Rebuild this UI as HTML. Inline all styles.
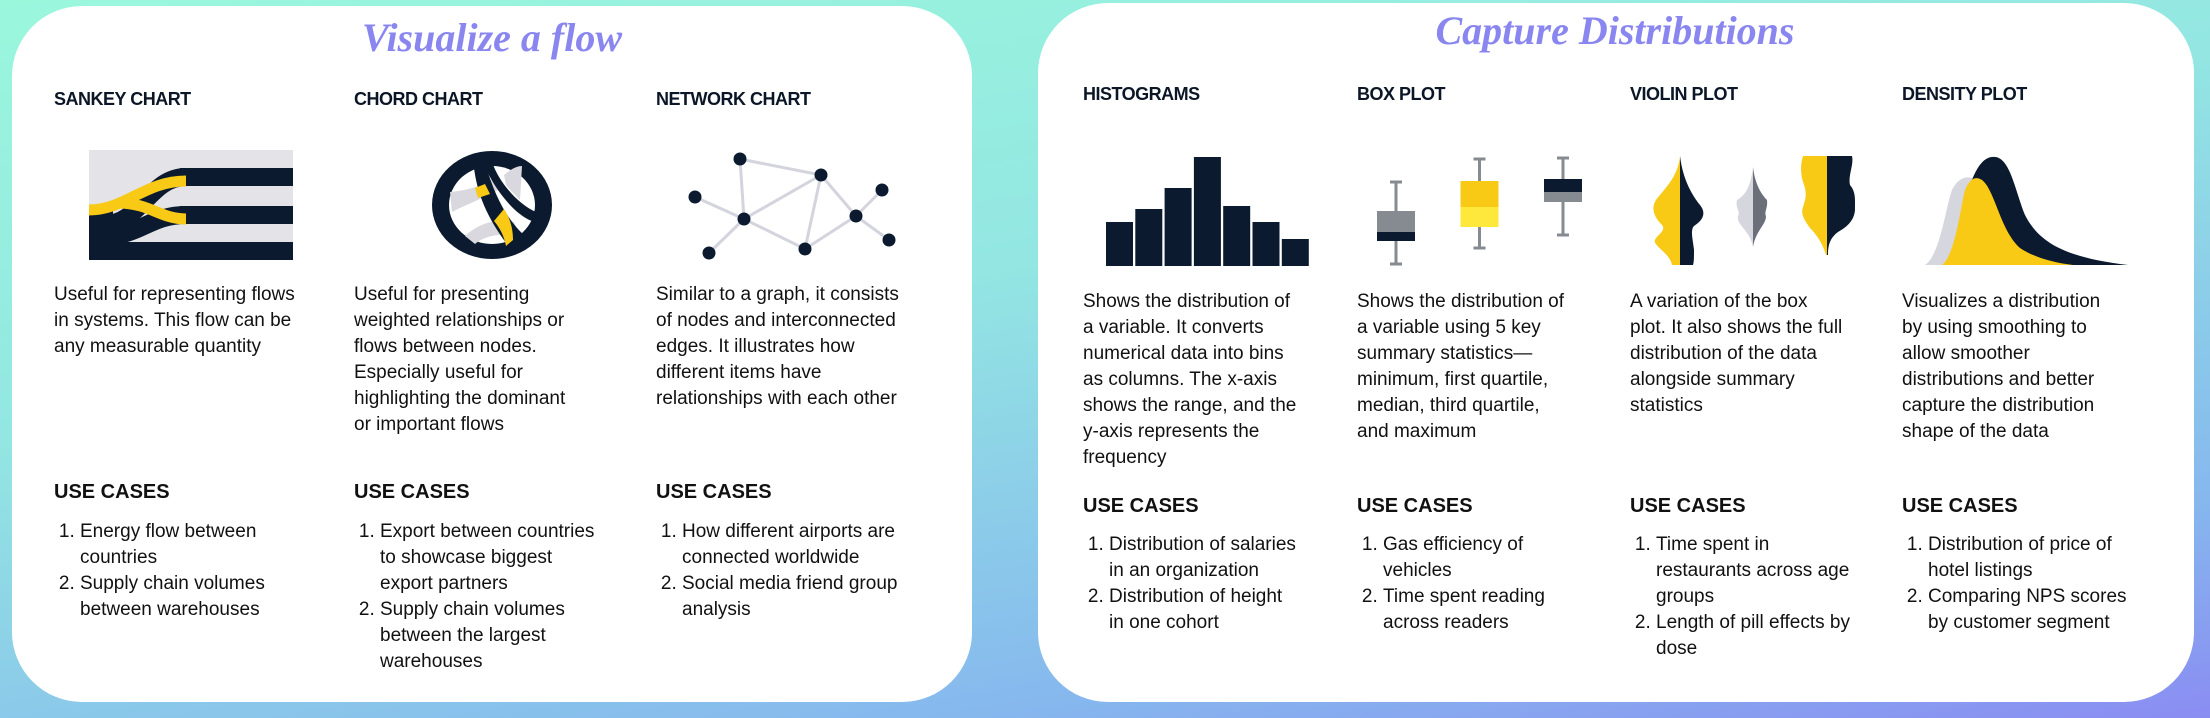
<!DOCTYPE html>
<html><head><meta charset="utf-8">
<style>
body{margin:0;width:2210px;height:718px;overflow:hidden;font-family:"Liberation Sans",sans-serif;color:#111;
background:linear-gradient(170deg,#9af7dc 0%,#93e6e2 40%,#86b8ee 80%,#8a8cf2 100%);position:relative}
.card{position:absolute;background:#fff;border-radius:70px}
.title{position:absolute;font-family:"Liberation Serif",serif;font-style:italic;font-weight:bold;font-size:40px;color:#8a86f0;text-align:center}
.h{position:absolute;font-weight:bold;font-size:18px;letter-spacing:-0.5px;color:#0b1626}
.d{position:absolute;font-size:19px;line-height:26px;white-space:nowrap;color:#111}
.u{position:absolute;font-weight:bold;font-size:20px}
ol{position:absolute;margin:0;padding-left:26px;font-size:19px;line-height:26px;white-space:nowrap}
svg{position:absolute;left:0;top:0}
</style></head><body>
<div class="card" style="left:12px;top:6px;width:960px;height:696px"></div>
<div class="card" style="left:1038px;top:3px;width:1156px;height:699px"></div>
<div class="title" style="left:292px;top:14px;width:400px">Visualize a flow</div>
<div class="title" style="left:1415px;top:7px;width:400px">Capture Distributions</div>

<div class="h" style="left:54px;top:89px">SANKEY CHART</div>
<div class="h" style="left:354px;top:89px">CHORD CHART</div>
<div class="h" style="left:656px;top:89px">NETWORK CHART</div>
<div class="h" style="left:1083px;top:84px">HISTOGRAMS</div>
<div class="h" style="left:1357px;top:84px">BOX PLOT</div>
<div class="h" style="left:1630px;top:84px">VIOLIN PLOT</div>
<div class="h" style="left:1902px;top:84px">DENSITY PLOT</div>

<div class="d" style="left:54px;top:282px">Useful for representing flows<br>in systems. This flow can be<br>any measurable quantity</div>
<div class="d" style="left:354px;top:282px">Useful for presenting<br>weighted relationships or<br>flows between nodes.<br>Especially useful for<br>highlighting the dominant<br>or important flows</div>
<div class="d" style="left:656px;top:282px">Similar to a graph, it consists<br>of nodes and interconnected<br>edges. It illustrates how<br>different items have<br>relationships with each other</div>
<div class="d" style="left:1083px;top:289px">Shows the distribution of<br>a variable. It converts<br>numerical data into bins<br>as columns. The x-axis<br>shows the range, and the<br>y-axis represents the<br>frequency</div>
<div class="d" style="left:1357px;top:289px">Shows the distribution of<br>a variable using 5 key<br>summary statistics—<br>minimum, first quartile,<br>median, third quartile,<br>and maximum</div>
<div class="d" style="left:1630px;top:289px">A variation of the box<br>plot. It also shows the full<br>distribution of the data<br>alongside summary<br>statistics</div>
<div class="d" style="left:1902px;top:289px">Visualizes a distribution<br>by using smoothing to<br>allow smoother<br>distributions and better<br>capture the distribution<br>shape of the data</div>

<div class="u" style="left:54px;top:481px">USE CASES</div>
<div class="u" style="left:354px;top:481px">USE CASES</div>
<div class="u" style="left:656px;top:481px">USE CASES</div>
<div class="u" style="left:1083px;top:495px">USE CASES</div>
<div class="u" style="left:1357px;top:495px">USE CASES</div>
<div class="u" style="left:1630px;top:495px">USE CASES</div>
<div class="u" style="left:1902px;top:495px">USE CASES</div>

<ol style="left:54px;top:519px"><li>Energy flow between<br>countries</li><li>Supply chain volumes<br>between warehouses</li></ol>
<ol style="left:354px;top:519px"><li>Export between countries<br>to showcase biggest<br>export partners</li><li>Supply chain volumes<br>between the largest<br>warehouses</li></ol>
<ol style="left:656px;top:519px"><li>How different airports are<br>connected worldwide</li><li>Social media friend group<br>analysis</li></ol>
<ol style="left:1083px;top:532px"><li>Distribution of salaries<br>in an organization</li><li>Distribution of height<br>in one cohort</li></ol>
<ol style="left:1357px;top:532px"><li>Gas efficiency of<br>vehicles</li><li>Time spent reading<br>across readers</li></ol>
<ol style="left:1630px;top:532px"><li>Time spent in<br>restaurants across age<br>groups</li><li>Length of pill effects by<br>dose</li></ol>
<ol style="left:1902px;top:532px"><li>Distribution of price of<br>hotel listings</li><li>Comparing NPS scores<br>by customer segment</li></ol>

<svg id="g" width="2210" height="718">
 <g>
  <rect x="89" y="150" width="204" height="110" fill="#e4e4e8"/>
  <rect x="89" y="206" width="24" height="54" fill="#0b1a2e"/>
  <rect x="100" y="242" width="193" height="18" fill="#0b1a2e"/>
  <rect x="180" y="168" width="113" height="18" fill="#0b1a2e"/>
  <rect x="180" y="206" width="113" height="18" fill="#0b1a2e"/>
  <path d="M105 224 C140 224 150 177 186 177" stroke="#0b1a2e" stroke-width="18" fill="none"/>
  <path d="M105 236 C140 236 150 215 186 215" stroke="#0b1a2e" stroke-width="18" fill="none"/>
  <path d="M89 210 C125 210 145 181 186 181" stroke="#f8c915" stroke-width="11" fill="none"/>
  <path d="M118 203 C150 203 160 219 186 219" stroke="#f8c915" stroke-width="11" fill="none"/>
 </g>
 <g>
  <ellipse cx="492" cy="205" rx="60" ry="54" fill="#0b1a2e"/>
  <ellipse cx="492" cy="205" rx="43" ry="39" fill="#fff"/>
  <path d="M450 192 C470 190 485 185 494 178 L498 190 C480 200 465 205 452 212Z" fill="#d8d8de"/>
  <path d="M504 175 C512 168 518 166 522 166 L520 200 C515 195 510 190 506 185Z" fill="#d8d8de"/>
  <path d="M465 236 C480 222 500 218 514 222 L520 237 C505 232 485 235 475 244Z" fill="#d8d8de"/>
  <path d="M474 168 C478 200 492 225 510 248 L530 240 C510 225 496 200 486 166Z" fill="#0b1a2e"/>
  <path d="M475 188 L485 184 L490 194 L478 198Z" fill="#f8c915"/>
  <path d="M494 221 L504 209 C510 218 513 228 513 240 L506 246 C504 236 500 228 494 221Z" fill="#f8c915"/>
  <path d="M484 165 C495 190 515 215 532 221 L536 212 C520 205 500 185 492 162Z" fill="#0b1a2e"/>
 </g>
 <g id="net"></g>
 <g id="hist"></g>
 <g id="box"></g>
 <g>
  <path d="M1680 156 C1678 175 1668 185 1660 195 C1650 205 1652 215 1662 225 C1668 232 1650 238 1656 244 C1660 250 1670 255 1672 265 H1680Z" fill="#f8c915"/>
  <path d="M1680 156 C1683 180 1692 195 1700 205 C1708 215 1700 222 1694 226 C1690 230 1693 240 1694 250 C1694 258 1694 262 1693 265 H1680Z" fill="#0b1a2e"/>
  <path d="M1753 167 C1751 185 1746 195 1737 200 C1735 208 1741 212 1738 216 C1736 225 1750 230 1753 247Z" fill="#d6d6de"/>
  <path d="M1753 167 C1755 185 1762 195 1767 200 C1768 208 1764 212 1766 216 C1766 225 1756 230 1753 247Z" fill="#6a6f7a"/>
  <path d="M1827 156 H1803 C1800 165 1801 175 1803 182 C1808 195 1805 200 1803 207 C1800 215 1806 222 1810 228 C1818 236 1823 245 1826 255 H1827Z" fill="#f8c915"/>
  <path d="M1827 156 H1852 C1854 165 1848 175 1850 185 C1856 192 1855 200 1855 210 C1854 222 1845 228 1838 232 C1830 238 1828 245 1828 255 H1827Z" fill="#0b1a2e"/>
 </g>
 <g>
  <path d="M1925 265 C1940 255 1945 210 1952 190 C1958 178 1966 176 1972 178 C1985 185 1995 230 2010 250 C2020 260 2030 264 2040 265Z" fill="#d6d6de"/>
  <path d="M1972 180 C1978 165 1985 156 1995 157 C2010 158 2015 190 2025 215 C2040 245 2070 258 2128 265 H1985Z" fill="#0b1a2e"/>
  <path d="M1942 265 C1955 255 1960 210 1965 190 C1970 178 1976 176 1982 180 C1995 190 2000 230 2020 248 C2035 258 2055 263 2073 265Z" fill="#f8c915"/>
 </g>
</svg>
<script>
const NS='http://www.w3.org/2000/svg';
function mk(p,t,a){const e=document.createElementNS(NS,t);for(const k in a)e.setAttribute(k,a[k]);p.appendChild(e);return e;}
// histogram data
const histValues=[44,57,78,109,60,44,27];
// box plot data: [min,q1,median,q3,max] as offsets from top
const boxStats=[[88,65,56,35,6],[72,51,31,5,-17],[59,26,16,3,-18]];
const boxColors=[["#868b92","#0b1a2e"],["#f8c915","#ffe83c"],["#0b1a2e","#868b92"]];
// network data (unit coords)
const netNodes=[[45,0],[126,16],[0,38],[187,31],[49,60],[161,57],[194,81],[14,94],[110,90]];
const netEdges=[[0,1],[0,4],[2,4],[4,1],[4,7],[4,8],[1,8],[1,5],[5,3],[5,6],[8,5]];

const hx=i=>1106+i*29.3, hy=v=>266-v;
const hg=document.getElementById('hist');
histValues.forEach((v,i)=>{
 const r=mk(hg,'rect',{x:hx(i),y:hy(v),width:27,height:v,fill:'#0b1a2e'});
 
 
});
const bg=document.getElementById('box');
const by=v=>176+v, bx=i=>1377+i*83.5;
boxStats.forEach((s,i)=>{
 const x=bx(i),c=x+19;
 const l=mk(bg,'line',{x1:c,x2:c,y1:by(s[4]),y2:by(s[0]),stroke:'#868b92','stroke-width':3});
 
 
 mk(bg,'line',{x1:c-6,x2:c+6,y1:by(s[4]),y2:by(s[4]),stroke:'#868b92','stroke-width':3});
 mk(bg,'line',{x1:c-6,x2:c+6,y1:by(s[0]),y2:by(s[0]),stroke:'#868b92','stroke-width':3});
 const a=mk(bg,'rect',{x:x,y:by(s[3]),width:38,height:s[2]-s[3],fill:boxColors[i][0]});
 
 
 const b=mk(bg,'rect',{x:x,y:by(s[2]),width:38,height:s[1]-s[2],fill:boxColors[i][1]});
 
 
});
const ng=document.getElementById('net');
const nx=v=>695+v, ny=v=>159+v;
netEdges.forEach(e=>{
 const a=netNodes[e[0]],b=netNodes[e[1]];
 const l=mk(ng,'line',{x1:nx(a[0]),y1:ny(a[1]),x2:nx(b[0]),y2:ny(b[1]),stroke:'#d4d4de','stroke-width':3});
 
 
});
netNodes.forEach(n=>{
 const c=mk(ng,'circle',{cx:nx(n[0]),cy:ny(n[1]),r:6.5,fill:'#0b1a2e'});
 
 
});
</script>
</body></html>
